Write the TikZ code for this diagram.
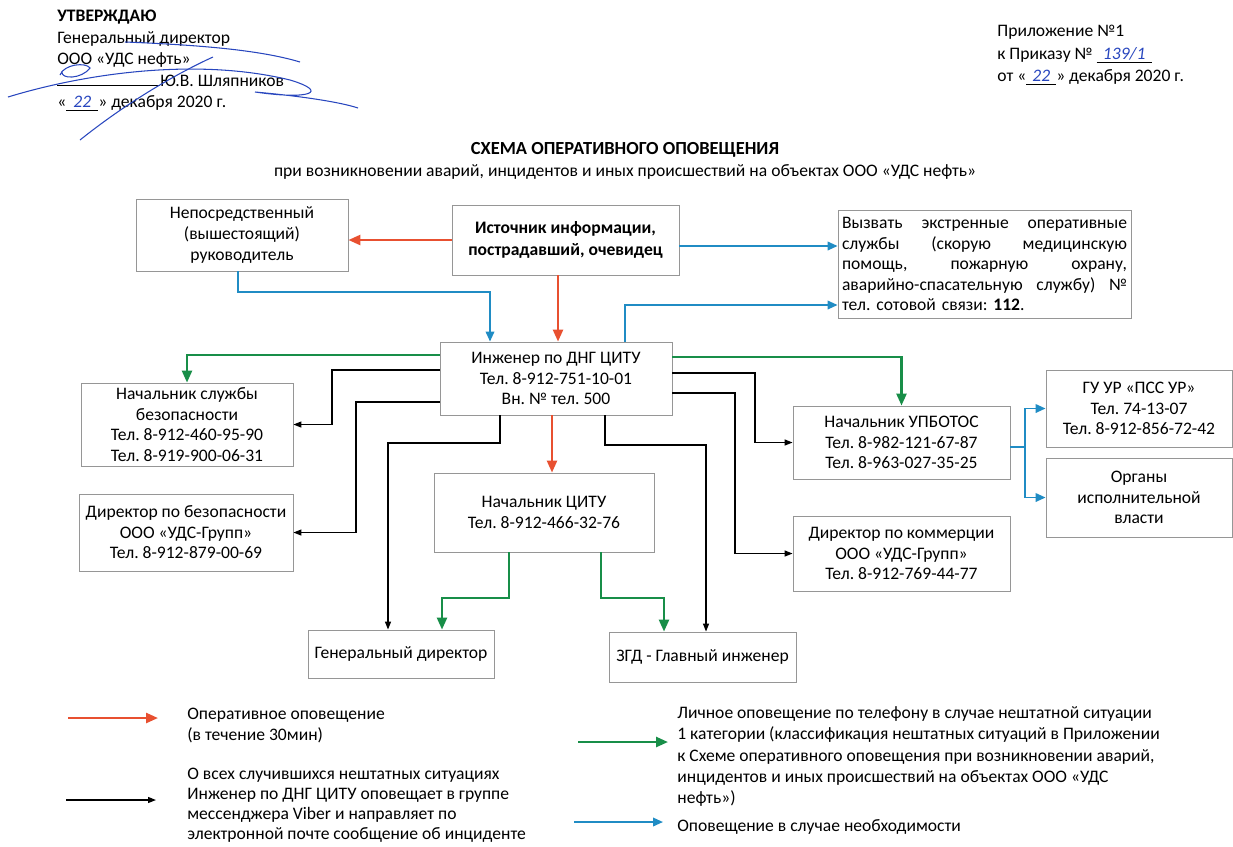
\documentclass[tikz,border=0pt]{standalone}
\usepackage{fontspec}
\setmainfont{Carlito}
\usetikzlibrary{arrows.meta}
\frenchspacing

\definecolor{opred}{RGB}{232,80,48}
\definecolor{opgreen}{RGB}{24,142,72}
\definecolor{opblue}{RGB}{32,140,196}
\definecolor{ink}{RGB}{40,70,190}
\definecolor{boxline}{RGB}{150,150,150}

\begin{document}
\begin{tikzpicture}[x=0.02cm, y=-0.02cm,
    font=\fontsize{10}{11.7}\selectfont,
    box/.style={draw=boxline, line width=0.5pt, fill=white, align=center, inner sep=1pt},
    arrop/.style={opred, line width=1.4pt, -{Triangle[length=0.24cm, width=0.2cm]}},
    arrtel/.style={opgreen, line width=1.4pt, -{Triangle[length=0.24cm, width=0.2cm]}},
    arrneed/.style={opblue, line width=1.1pt, -{Triangle[length=0.2cm, width=0.17cm]}},
    arrmsg/.style={black, line width=0.7pt, -{Triangle[length=0.16cm, width=0.12cm]}},
    sig/.style={ink, line width=0.6pt}]
\useasboundingbox (0,0) rectangle (1233,846);

% шапка
\node[anchor=north west, align=left, inner sep=0, font=\fontsize{10}{12.2}\selectfont] (appr) at (57,10)
    {\textbf{УТВЕРЖДАЮ}\\Генеральный директор\\ООО «УДС нефть»\\\rule{2.06cm}{0.4pt}Ю.В. Шляпников\\
     «\underline{\makebox[0.64cm]{\textcolor{ink}{\itshape 22}}}» декабря 2020 г.};
\draw[sig] (8,97) .. controls (90,72) and (200,58) .. (290,80) .. controls (330,92) and (310,100) .. (255,92) .. controls (300,96) and (340,102) .. (358,108);
\draw[sig] (80,140) .. controls (130,100) and (180,72) .. (213,57);
\draw[sig] (60,75) .. controls (64,64) and (86,62) .. (90,68) .. controls (82,79) and (60,80) .. (62,71);
\draw[sig] (125,42) .. controls (200,45) and (260,50) .. (300,62);

\node[anchor=north west, align=left, inner sep=0, font=\fontsize{10}{12.8}\selectfont] (annex) at (997,25)
    {Приложение №1\\к Приказу № \underline{\makebox[1.1cm]{\textcolor{ink}{\itshape 139/1}}}\\
     от «\underline{\makebox[0.6cm]{\textcolor{ink}{\itshape 22}}}» декабря 2020 г.};

\node[font=\fontsize{10.5}{12}\selectfont\bfseries] (title) at (625,150) {СХЕМА ОПЕРАТИВНОГО ОПОВЕЩЕНИЯ};
\node (subtitle) at (625,172) {при возникновении аварий, инцидентов и иных происшествий на объектах ООО «УДС нефть»};

% блоки
\node[box, minimum width=4.24cm, minimum height=1.44cm] (nep) at (242,235) {Непосредственный\\(вышестоящий)\\руководитель};
\node[box, minimum width=4.54cm, minimum height=1.4cm, font=\fontsize{10}{12.5}\selectfont\bfseries] (src) at (565.5,240) {Источник информации,\\пострадавший, очевидец};
\node[box, text width=5.7cm, minimum height=2.16cm, align=left, inner sep=0.08cm] (call) at (984.5,264)
    {\makebox[5.7cm][s]{Вызвать\hfill экстренные\hfill оперативные}\\
     \makebox[5.7cm][s]{службы\hfill (скорую\hfill медицинскую}\\
     \makebox[5.7cm][s]{помощь,\hfill пожарную\hfill охрану,}\\
     \makebox[5.7cm][s]{аварийно-спасательную\hfill службу)\hfill №}\\
     тел. сотовой связи: \textbf{112}.};
\node[box, minimum width=4.64cm, minimum height=1.46cm] (ing) at (556,378.5) {Инженер по ДНГ ЦИТУ\\Тел. 8-912-751-10-01\\Вн. № тел. 500};
\node[box, minimum width=4.24cm, minimum height=1.66cm] (nsb) at (187,424.5) {Начальник службы\\безопасности\\Тел. 8-912-460-95-90\\Тел. 8-919-900-06-31};
\node[box, minimum width=4.28cm, minimum height=1.54cm] (dsb) at (186,532.5) {Директор по безопасности\\ООО «УДС-Групп»\\Тел. 8-912-879-00-69};
\node[box, minimum width=4.4cm, minimum height=1.58cm] (citu) at (544,512.5) {Начальник ЦИТУ\\Тел. 8-912-466-32-76};
\node[box, minimum width=4.34cm, minimum height=1.46cm] (upb) at (901.5,442.5) {Начальник УПБОТОС\\Тел. 8-982-121-67-87\\Тел. 8-963-027-35-25};
\node[box, minimum width=4.34cm, minimum height=1.5cm] (dkm) at (901.5,553.5) {Директор по коммерции\\ООО «УДС-Групп»\\Тел. 8-912-769-44-77};
\node[box, minimum width=3.72cm, minimum height=1.54cm] (guur) at (1139,408.5) {ГУ УР «ПСС УР»\\Тел. 74-13-07\\Тел. 8-912-856-72-42};
\node[box, minimum width=3.72cm, minimum height=1.58cm] (org) at (1139,497.5) {Органы\\исполнительной\\власти};
\node[box, minimum width=3.72cm, minimum height=0.96cm] (gd) at (401,654) {Генеральный директор};
\node[box, minimum width=3.74cm, minimum height=1.0cm] (zgd) at (702.5,657) {ЗГД - Главный инженер};

% связи
\draw[arrop] (src.west) -- (src.west -| nep.east);
\draw[arrop] (src.south -| 558,0) -- (ing.north -| 558,0);
\draw[arrneed] (src.east |- 0,246) -- (call.west |- 0,246);
\draw[arrneed] (nep.south -| 238,0) -- ++(0,21) -| (ing.north -| 490,0);
\draw[arrneed] (ing.north -| 625,0) |- (call.west |- 0,305);
\draw[arrtel] (ing.west |- 0,355) -| (nsb.north);
\draw[arrtel] (ing.east |- 0,357) -| (upb.north);
\draw[arrmsg] (ing.west |- 0,370) -- (332,370) |- (nsb.east);
\draw[arrmsg] (ing.west |- 0,402) -- (356,402) |- (dsb.east);
\draw[arrmsg] (ing.south -| 500,0) -- (500,443) -| (gd.north -| 388,0);
\draw[arrop] (ing.south -| 552,0) -- (citu.north -| 552,0);
\draw[arrmsg] (ing.south -| 605,0) -- (605,445) -| (zgd.north -| 706,0);
\draw[arrmsg] (ing.east |- 0,373) -- (755,373) |- (upb.west);
\draw[arrmsg] (ing.east |- 0,393) -- (735,393) |- (dkm.west);
\draw[arrtel] (citu.south -| 509,0) -- (509,598) -| (gd.north -| 442,0);
\draw[arrtel] (citu.south -| 601,0) -- (601,598) -| (zgd.north -| 664,0);
\coordinate (fork) at (1025,447);
\draw[opblue, line width=1.1pt] (upb.east |- fork) -- (fork);
\draw[arrneed] (fork) |- (guur.west);
\draw[arrneed] (fork) |- (org.west);

% условные обозначения
\coordinate (l1a) at (68,718);  \coordinate (l1b) at (158,718);
\coordinate (l2a) at (66,800);  \coordinate (l2b) at (156,800);
\coordinate (l3a) at (578,742); \coordinate (l3b) at (668,742);
\coordinate (l4a) at (574,822); \coordinate (l4b) at (663,822);
\draw[arrop] (l1a) -- (l1b);
\draw[arrmsg] (l2a) -- (l2b);
\draw[arrtel] (l3a) -- (l3b);
\draw[arrneed] (l4a) -- (l4b);
\node[anchor=north west, align=left, inner sep=0] (leg1) at (187,708) {Оперативное оповещение\\(в течение 30мин)};
\node[anchor=north west, align=left, inner sep=0, font=\fontsize{10}{11.4}\selectfont] (leg2) at (187,768) {О всех случившихся нештатных ситуациях\\Инженер по ДНГ ЦИТУ оповещает в группе\\мессенджера Viber и направляет по\\электронной почте сообщение об инциденте};
\node[anchor=north west, align=left, inner sep=0, font=\fontsize{10}{12.2}\selectfont] (leg3) at (677,706) {Личное оповещение по телефону в случае нештатной ситуации\\1 категории (классификация нештатных ситуаций в Приложении\\к Схеме оперативного оповещения при возникновении аварий,\\инцидентов и иных происшествий на объектах ООО «УДС\\нефть»)};
\node[anchor=north west, align=left, inner sep=0] (leg4) at (677,819) {Оповещение в случае необходимости};

\end{tikzpicture}
\end{document}
